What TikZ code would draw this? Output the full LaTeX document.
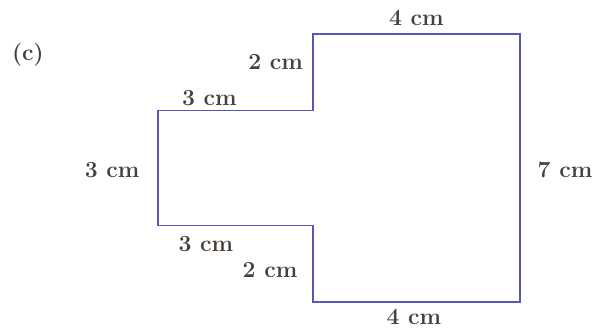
\documentclass[tikz,border=0pt]{standalone}
\definecolor{edgeblue}{RGB}{88,88,178}
\definecolor{labelgray}{RGB}{72,64,58}
\tikzset{
  side/.style={font=\fontsize{23}{27}\selectfont\bfseries,text=labelgray,inner sep=0pt},
}
\begin{document}
\begin{tikzpicture}[x=51.75pt,y=38.29pt]
			\useasboundingbox (-6.048,-0.679) rectangle (5.449,7.887);
			\coordinate (A) at (0,0);
			\coordinate (B) at (4,0);
			\coordinate (C) at (4,7);
			\coordinate (D) at (0,7);
			\coordinate (E) at (0,5);
			\coordinate (F) at (-3,5);
			\coordinate (G) at (-3,2);
			\coordinate (H) at (0,2);
			\draw[edgeblue,line width=1.8pt,line join=miter] (A)--(B)--(C)--(D)--(E)--(F)--(G)--(H)--cycle;
			\node[side] (tag) at (-5.51,6.45) {(c)};
			\node[side] (top) at (2,7.42) {4 cm};
			\node[side] (bot) at (1.95,-0.40) {4 cm};
			\node[side] (rgt) at (4.87,3.45) {7 cm};
			\node[side] (lft) at (-3.88,3.45) {3 cm};
			\node[side] (uppr) at (-2,5.33) {3 cm};
			\node[side] (lowr) at (-2.07,1.51) {3 cm};
			\node[side] (stepu) at (-0.72,6.27) {2 cm};
			\node[side] (stepd) at (-0.83,0.84) {2 cm};
		\end{tikzpicture}
\end{document}
